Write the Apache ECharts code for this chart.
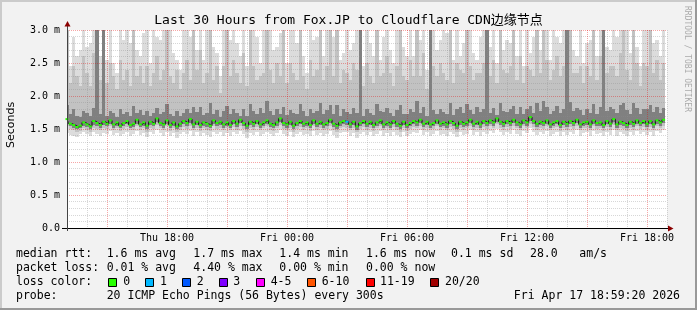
<!DOCTYPE html>
<html><head><meta charset="utf-8">
<script src="https://cdn.jsdelivr.net/npm/echarts@6/dist/echarts.min.js"></script>
<style>html,body{margin:0;padding:0;background:#f2f2f2}#c{width:697px;height:310px}</style>
</head><body><div id="c"></div>
<script>
// time in hours counted from Thu 00:00; samples every 10 minutes
const startHour = 13;
const stepHours = 1 / 6;
const pingMin = [
1.44,1.41,1.40,1.38,1.42,1.45, 1.42,1.39,1.46,1.43,1.40,1.44, 1.43,1.47,1.41,1.44,1.39,1.43,
1.46,1.40,1.42,1.47,1.41,1.44, 1.38,1.45,1.43,1.48,1.44,1.40, 1.46,1.39,1.44,1.37,1.42,1.45,
1.43,1.47,1.40,1.45,1.39,1.44, 1.41,1.38,1.46,1.43,1.45,1.40, 1.44,1.40,1.46,1.42,1.47,1.43,
1.37,1.44,1.41,1.46,1.40,1.43, 1.46,1.42,1.39,1.44,1.48,1.42, 1.40,1.45,1.38,1.43,1.46,1.41,
1.43,1.39,1.47,1.41,1.44,1.40, 1.42,1.47,1.41,1.37,1.44,1.46, 1.45,1.40,1.44,1.36,1.42,1.46,
1.41,1.45,1.39,1.43,1.47,1.40, 1.44,1.40,1.46,1.41,1.38,1.45, 1.39,1.43,1.46,1.44,1.48,1.41,
1.45,1.40,1.42,1.47,1.41,1.43, 1.40,1.46,1.42,1.38,1.45,1.41, 1.43,1.48,1.41,1.45,1.39,1.46,
1.42,1.47,1.44,1.50,1.45,1.41, 1.46,1.42,1.48,1.43,1.40,1.47, 1.44,1.51,1.46,1.41,1.45,1.42,
1.47,1.40,1.43,1.46,1.39,1.45, 1.41,1.46,1.42,1.48,1.40,1.44, 1.45,1.40,1.47,1.42,1.44,1.39,
1.46,1.41,1.49,1.40,1.45,1.42, 1.39,1.45,1.41,1.47,1.42,1.46, 1.41,1.46,1.40,1.47,1.44,1.48];
const pingQ10 = [
1.55,1.50,1.48,1.46,1.47,1.51, 1.49,1.46,1.52,1.50,1.48,1.52, 1.50,1.54,1.48,1.51,1.47,1.50,
1.53,1.48,1.49,1.54,1.49,1.51, 1.46,1.52,1.50,1.56,1.51,1.48, 1.54,1.47,1.51,1.46,1.49,1.53,
1.50,1.55,1.48,1.52,1.47,1.51, 1.49,1.47,1.54,1.50,1.52,1.48, 1.51,1.48,1.53,1.49,1.55,1.50,
1.46,1.52,1.49,1.53,1.48,1.51, 1.54,1.49,1.47,1.51,1.56,1.50, 1.48,1.52,1.46,1.50,1.53,1.49,
1.51,1.47,1.54,1.49,1.52,1.48, 1.50,1.55,1.49,1.46,1.51,1.53, 1.52,1.48,1.52,1.45,1.50,1.53,
1.49,1.52,1.47,1.51,1.54,1.48, 1.51,1.48,1.53,1.49,1.46,1.52, 1.47,1.50,1.53,1.51,1.55,1.49,
1.52,1.48,1.50,1.54,1.49,1.51, 1.48,1.53,1.50,1.46,1.52,1.49, 1.51,1.55,1.49,1.52,1.48,1.53,
1.50,1.54,1.51,1.57,1.52,1.49, 1.53,1.50,1.55,1.51,1.48,1.54, 1.51,1.58,1.53,1.49,1.52,1.50,
1.54,1.48,1.51,1.53,1.47,1.52, 1.49,1.53,1.50,1.55,1.48,1.51, 1.52,1.48,1.54,1.50,1.51,1.47,
1.53,1.49,1.56,1.48,1.52,1.50, 1.47,1.52,1.49,1.54,1.50,1.53, 1.49,1.53,1.48,1.54,1.51,1.55];
const pingQ25 = [
1.60,1.54,1.52,1.50,1.51,1.55, 1.53,1.50,1.56,1.54,1.52,1.56, 1.54,1.58,1.52,1.55,1.51,1.54,
1.57,1.52,1.53,1.58,1.53,1.55, 1.50,1.56,1.54,1.60,1.55,1.52, 1.58,1.51,1.55,1.50,1.53,1.57,
1.54,1.59,1.52,1.56,1.51,1.55, 1.53,1.51,1.58,1.54,1.56,1.52, 1.55,1.52,1.57,1.53,1.59,1.54,
1.50,1.56,1.53,1.57,1.52,1.55, 1.58,1.53,1.51,1.55,1.60,1.54, 1.52,1.56,1.50,1.54,1.57,1.53,
1.55,1.51,1.58,1.53,1.56,1.52, 1.54,1.59,1.53,1.50,1.55,1.57, 1.56,1.52,1.56,1.49,1.54,1.57,
1.53,1.56,1.51,1.55,1.58,1.52, 1.55,1.52,1.57,1.53,1.50,1.56, 1.51,1.54,1.57,1.55,1.59,1.53,
1.56,1.52,1.54,1.58,1.53,1.55, 1.52,1.57,1.54,1.50,1.56,1.53, 1.55,1.59,1.53,1.56,1.52,1.57,
1.54,1.58,1.55,1.61,1.56,1.53, 1.57,1.54,1.59,1.55,1.52,1.58, 1.55,1.62,1.57,1.53,1.56,1.54,
1.58,1.52,1.55,1.57,1.51,1.56, 1.53,1.57,1.54,1.59,1.52,1.55, 1.56,1.52,1.58,1.54,1.55,1.51,
1.57,1.53,1.60,1.52,1.56,1.54, 1.51,1.56,1.53,1.58,1.54,1.57, 1.53,1.57,1.52,1.58,1.55,1.59];
const medianRtt = [
1.65,1.58,1.56,1.53,1.55,1.60, 1.57,1.54,1.62,1.59,1.56,1.61, 1.58,1.63,1.57,1.60,1.55,1.59,
1.62,1.56,1.58,1.64,1.57,1.60, 1.55,1.61,1.58,1.66,1.59,1.57, 1.63,1.56,1.60,1.54,1.58,1.62,
1.59,1.65,1.57,1.61,1.56,1.60, 1.58,1.55,1.63,1.59,1.61,1.57, 1.60,1.56,1.62,1.58,1.64,1.59,
1.55,1.61,1.58,1.62,1.57,1.60, 1.63,1.58,1.56,1.60,1.66,1.59, 1.57,1.61,1.55,1.59,1.62,1.58,
1.60,1.56,1.63,1.58,1.61,1.57, 1.59,1.64,1.58,1.55,1.60,1.62, 1.61,1.57,1.61,1.54,1.59,1.62,
1.58,1.61,1.56,1.60,1.63,1.57, 1.60,1.57,1.62,1.58,1.55,1.61, 1.56,1.59,1.62,1.60,1.64,1.58,
1.61,1.57,1.59,1.63,1.58,1.60, 1.57,1.62,1.59,1.55,1.61,1.58, 1.60,1.64,1.58,1.61,1.57,1.62,
1.59,1.63,1.60,1.66,1.61,1.58, 1.62,1.59,1.64,1.60,1.57,1.63, 1.60,1.68,1.62,1.58,1.61,1.59,
1.63,1.57,1.60,1.62,1.56,1.61, 1.58,1.62,1.59,1.64,1.57,1.60, 1.61,1.57,1.63,1.59,1.60,1.56,
1.62,1.58,1.65,1.57,1.61,1.59, 1.56,1.61,1.58,1.63,1.59,1.62, 1.58,1.62,1.57,1.63,1.60,1.64];
const pingQ75 = [
1.86,1.72,1.80,1.70,1.68,1.78, 1.75,1.70,1.82,3.5,1.72,3.5, 1.70,1.78,1.74,1.68,1.80,1.73,
1.76,1.70,1.85,1.74,1.79,1.71, 1.77,1.69,1.75,1.82,1.72,1.76, 1.88,1.73,1.70,1.78,1.69,1.75,
1.80,1.74,1.84,1.76,1.83,1.71, 1.75,1.90,1.72,1.79,1.68,1.77, 1.85,1.73,1.81,1.74,1.70,1.80,
1.69,1.88,1.78,1.72,1.82,1.75, 1.92,1.77,1.71,1.80,1.73,1.83, 1.71,1.79,1.75,1.72,1.88,1.78,
1.69,1.80,1.74,1.77,1.90,1.72, 1.79,1.87,1.73,1.86,1.70,1.80, 1.76,1.72,1.82,1.75,3.5,1.69,
1.80,1.74,1.71,1.88,1.78,1.76, 1.82,1.75,1.70,1.79,1.87,1.73, 1.72,1.81,1.76,1.92,1.74,1.83,
1.70,3.5,1.79,1.73,1.81,1.76, 1.72,1.90,1.71,1.80,1.84,1.75, 1.88,1.79,1.73,1.83,1.76,1.80,
3.5,1.74,1.82,1.71,1.90,1.77, 1.76,1.81,1.85,1.73,1.84,1.72, 1.80,1.85,1.75,1.89,1.77,1.92,
1.83,1.73,1.78,1.85,1.74,1.80, 3.5,1.91,1.77,1.82,1.79,1.71, 1.81,1.75,1.88,1.73,1.83,3.5,
1.78,1.84,1.80,1.74,1.86,1.90, 1.79,1.73,1.89,1.82,1.72,1.81, 1.80,1.86,1.76,1.84,1.75,1.82];
const pingQ90 = [
3.5,2.2,2.45,2.3,2.15,2.6, 2.35,2.15,2.65,3.5,2.25,3.5, 2.2,2.5,2.3,2.1,2.55,2.25,
2.4,2.15,3.5,2.3,2.45,2.2, 2.45,2.15,2.35,2.6,2.25,2.4, 3.5,2.3,2.2,2.4,2.1,2.35,
2.55,2.25,3.5,2.4,2.7,2.2, 2.35,3.5,2.25,2.45,2.05,2.45, 3.5,2.3,2.55,2.35,2.2,2.65,
2.15,3.5,2.45,2.25,2.3,2.35, 3.5,2.4,2.2,2.5,2.3,3.5, 2.2,2.5,2.35,2.25,3.5,2.3,
2.1,2.55,2.3,2.4,3.5,2.25, 2.45,3.5,2.3,3.5,2.2,2.4, 2.35,2.25,2.5,2.4,3.5,2.15,
2.5,2.3,2.2,3.5,2.3,2.35, 2.6,2.35,2.15,2.45,3.5,2.3, 2.25,2.55,2.3,3.5,2.3,2.65,
2.1,3.5,2.45,2.3,2.5,2.35, 2.25,3.5,2.2,2.5,2.4,2.35, 3.5,2.45,2.25,2.35,2.35,2.5,
3.5,2.3,2.55,2.2,3.5,2.4, 2.35,2.45,3.5,2.25,2.6,2.2, 2.45,2.4,2.3,3.5,2.35,3.5,
2.55,2.25,2.4,2.6,2.3,2.45, 3.5,3.5,2.35,2.35,2.45,2.2, 2.45,2.3,3.5,2.25,2.6,3.5,
2.35,2.45,2.45,2.3,2.65,3.5, 2.4,2.25,3.5,2.5,2.15,2.5, 2.45,3.5,2.35,2.55,2.25,2.5];
const pingMax = [
3.5,2.45,2.9,2.6,2.7,3.5, 2.75,2.8,3.5,3.5,2.6,3.5, 2.55,3.5,2.5,2.35,3.5,2.85,
3.5,2.8,3.5,2.7,2.6,2.95, 3.5,2.5,3.5,2.9,2.85,3.5, 3.5,3.5,2.65,2.55,2.4,3.5,
3.5,2.9,3.5,2.7,3.5,2.55, 3.5,3.5,2.75,2.65,2.3,3.5, 3.5,2.85,3.5,2.8,2.6,3.5,
2.45,3.5,3.5,2.9,2.5,3.5, 3.5,3.5,2.7,2.75,2.95,3.5, 2.5,3.5,3.5,2.8,3.5,2.6,
2.35,3.5,2.85,2.9,3.5,2.6, 3.5,3.5,2.9,3.5,2.55,2.65, 3.5,2.7,2.8,3.5,3.5,2.45,
3.5,2.8,2.6,3.5,2.55,2.9, 3.5,2.7,2.5,3.5,3.5,2.75, 2.6,3.5,2.6,3.5,2.85,3.5,
2.4,3.5,3.5,2.7,2.85,3.5, 2.95,3.5,2.55,3.5,2.6,2.8, 3.5,3.5,2.65,2.55,2.9,3.5,
3.5,2.75,3.5,2.5,3.5,2.7, 2.85,2.8,3.5,2.6,3.5,2.45, 3.5,2.65,2.9,3.5,2.7,3.5,
3.5,2.55,3.5,2.9,2.8,3.5, 3.5,3.5,2.7,2.6,3.5,2.5, 2.8,2.85,3.5,2.6,3.5,3.5,
2.75,2.7,3.5,2.9,3.5,3.5, 3.5,2.65,3.5,2.75,2.45,3.5, 3.5,3.5,2.8,2.85,2.6,3.5];
// [hour, lost pings out of 20]
const lossEvents = [[27.0, 1]];
const lossLabels = ['0', '1', '2', '3', '4-5', '6-10', '11-19', '20/20'];
const lossColors = ['#26ff00', '#00b8ff', '#0059ff', '#7e00ff', '#ff00ff', '#ff5500', '#ff0000', '#a10000'];
const xTickHours = [18, 24, 30, 36, 42];
const xTickLabels = ['Thu 18:00', 'Fri 00:00', 'Fri 06:00', 'Fri 12:00', 'Fri 18:00'];
const titleText = 'Last 30 Hours from Fox.JP to Cloudflare CDN边缘节点';
const rttStats = ['1.6 ms avg', '1.7 ms max', '1.4 ms min', '1.6 ms now', '0.1 ms sd', '28.0', 'am/s'];
const lossStats = ['0.01 % avg', '4.40 % max', '0.00 % min', '0.00 % now'];
const probeText = '20 ICMP Echo Pings (56 Bytes) every 300s';
const dateText = 'Fri Apr 17 18:59:20 2026';

const MONO = '"DejaVu Sans Mono", "Noto Sans CJK SC", monospace';
const smokeData = medianRtt.map((m, i) => [startHour + i * stepHours, pingMin[i], pingQ10[i], pingQ25[i], pingQ75[i], pingQ90[i], pingMax[i]]);
function lossBucket(n) { if (n <= 3) return n; if (n <= 5) return 4; if (n <= 10) return 5; if (n < 20) return 6; return 7; }
const medData = medianRtt.map((m, i) => {
  const t = startHour + i * stepHours;
  let lost = 0;
  lossEvents.forEach(e => { if (Math.abs(e[0] - t) < stepHours / 2) lost = e[1]; });
  return { value: [t, m], itemStyle: { color: lossColors[lossBucket(lost)] } };
});

const bandColors = ['#dcdcdc', '#c2c2c2', '#808080'];
function renderSmoke(params, api) {
  const t = api.value(0);
  const cs = params.coordSys;
  const xa = Math.round(api.coord([t - stepHours / 2, 0])[0]);
  const xb = Math.round(api.coord([t + stepHours / 2, 0])[0]);
  const pairs = [[1, 6], [2, 5], [3, 4]];
  const children = [];
  pairs.forEach((p, k) => {
    const ylo = Math.round(api.coord([t, api.value(p[0])])[1]);
    const yhi = Math.round(api.coord([t, api.value(p[1])])[1]);
    const r = echarts.graphic.clipRectByRect(
      { x: xa, y: yhi, width: xb - xa, height: ylo - yhi },
      { x: cs.x, y: cs.y, width: cs.width, height: cs.height });
    if (r) children.push({ type: 'rect', shape: r, style: { fill: bandColors[k] } });
  });
  return { type: 'group', children };
}

const graphics = [];
function txt(x, y, s, opt) {
  graphics.push(Object.assign({ type: 'text', x, y, z: 100,
    style: Object.assign({ text: s, font: '11.5px ' + MONO, fill: '#000', align: 'left', verticalAlign: 'middle' }, (opt && opt.style) || {}) },
    opt && opt.rotation !== undefined ? { rotation: opt.rotation } : {}));
}
// frame
graphics.push({ type: 'rect', shape: { x: 0, y: 0, width: 697, height: 2 }, style: { fill: '#cbcbcb' }, z: 100 });
graphics.push({ type: 'rect', shape: { x: 0, y: 0, width: 2, height: 310 }, style: { fill: '#cbcbcb' }, z: 100 });
graphics.push({ type: 'rect', shape: { x: 0, y: 308, width: 697, height: 2 }, style: { fill: '#999999' }, z: 100 });
graphics.push({ type: 'rect', shape: { x: 695, y: 0, width: 2, height: 310 }, style: { fill: '#999999' }, z: 100 });
// axes lines and arrows
graphics.push({ type: 'line', shape: { x1: 62, y1: 228.5, x2: 668, y2: 228.5 }, style: { stroke: '#000', lineWidth: 1 }, z: 60 });
graphics.push({ type: 'line', shape: { x1: 67.5, y1: 231, x2: 67.5, y2: 26 }, style: { stroke: '#444', lineWidth: 1 }, z: 60 });
graphics.push({ type: 'polygon', shape: { points: [[64.5, 26.5], [70.5, 26.5], [67.5, 21]] }, style: { fill: '#8b0000' }, z: 61 });
graphics.push({ type: 'polygon', shape: { points: [[668, 225.5], [668, 231.5], [673.5, 228.5]] }, style: { fill: '#8b0000' }, z: 61 });
// title and side texts
txt(348.5, 21, titleText, { style: { font: '13px ' + MONO, align: 'center' } });
txt(11, 125, 'Seconds', { rotation: Math.PI / 2, style: { font: '11px "DejaVu Sans", sans-serif', align: 'center' } });
txt(687.5, 59, 'RRDTOOL / TOBI OETIKER', { rotation: -Math.PI / 2, style: { font: '8px ' + MONO, align: 'center', fill: '#ababab' } });
// legend rows
const rowY = [254.3, 267.8, 281.7, 295.6];
txt(16, rowY[0], 'median rtt:');
[106.7, 193.3, 279.3, 366, 451, 530, 579.3].forEach((x, k) => txt(x, rowY[0], rttStats[k]));
txt(16, rowY[1], 'packet loss:');
[106.7, 193.3, 279.3, 366].forEach((x, k) => txt(x, rowY[1], lossStats[k]));
txt(16, rowY[2], 'loss color:');
const boxX = [108.5, 145.5, 182.5, 219.5, 256.5, 307.5, 366.5, 430.5];
const labX = [123.3, 160, 196.7, 233.3, 270.7, 321.7, 380, 445];
lossLabels.forEach((l, k) => {
  graphics.push({ type: 'rect', shape: { x: boxX[k], y: 278.5, width: 8, height: 8 }, style: { fill: lossColors[k], stroke: '#000', lineWidth: 1 }, z: 100 });
  txt(labX[k], rowY[2], l);
});
txt(16, rowY[3], 'probe:');
txt(106.7, rowY[3], probeText);
txt(680, rowY[3], dateText, { style: { align: 'right' } });

const chart = echarts.init(document.getElementById('c'), null, { renderer: 'canvas' });
chart.setOption({
  animation: false,
  backgroundColor: '#f2f2f2',
  grid: { left: 67, right: 30, top: 30, bottom: 82, show: true, backgroundColor: '#ffffff', borderWidth: 0 },
  xAxis: {
    type: 'value', min: 13, max: 43, interval: 1, z: 5,
    axisLine: { show: false }, axisTick: { show: false },
    axisLabel: { margin: 5, fontFamily: MONO, fontSize: 10, color: '#000',
      formatter: v => { const k = xTickHours.indexOf(Math.round(v)); return k >= 0 ? xTickLabels[k] : ''; } },
    splitLine: { show: true, showMinLine: true, showMaxLine: true,
      lineStyle: { color: ['rgba(140,140,140,0.35)', 'rgba(140,140,140,0.35)', 'rgba(230,0,0,0.35)'], type: [1, 1], width: 1 } }
  },
  yAxis: {
    type: 'value', min: 0, max: 3.0, interval: 0.1, z: 5,
    axisLine: { show: false }, axisTick: { show: false },
    axisLabel: { margin: 7, fontFamily: MONO, fontSize: 10, color: '#000',
      formatter: v => { const k = Math.round(v * 10); if (k % 5) return ''; return k === 0 ? '0.0' : (k / 10).toFixed(1) + ' m'; } },
    splitLine: { show: true, showMinLine: true, showMaxLine: true,
      lineStyle: { color: ['rgba(230,0,0,0.35)', 'rgba(140,140,140,0.35)', 'rgba(140,140,140,0.35)', 'rgba(140,140,140,0.35)', 'rgba(140,140,140,0.35)'], type: [1, 1], width: 1 } }
  },
  series: [
    { type: 'custom', name: 'smoke', renderItem: renderSmoke, data: smokeData, z: 2, silent: true,
      dimensions: ['t', 'min', 'q10', 'q25', 'q75', 'q90', 'max'], encode: { x: 0, y: [1, 2, 3, 4, 5, 6] } },
    { type: 'line', name: 'median', data: medData, step: 'middle', z: 10, silent: true,
      lineStyle: { color: '#111', width: 1 }, symbol: 'rect', symbolSize: [3, 2], showAllSymbol: true }
  ],
  graphic: graphics
});
</script></body></html>
